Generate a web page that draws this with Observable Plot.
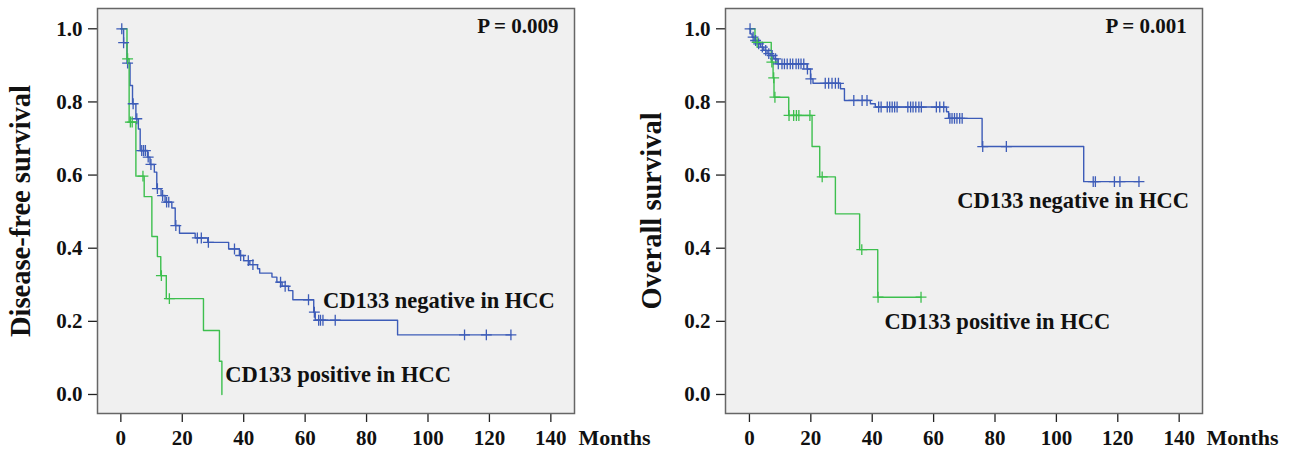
<!DOCTYPE html>
<html>
<head>
<meta charset="utf-8">
<script src="https://cdn.jsdelivr.net/npm/d3@7"></script>
<script src="https://cdn.jsdelivr.net/npm/@observablehq/plot@0.6"></script>
<style>
  html, body { margin: 0; padding: 0; background: #ffffff; }
  #wrap { position: relative; width: 1294px; height: 453px; overflow: hidden; background: #ffffff; }
  #left, #right { position: absolute; top: 0; }
  #left { left: 0; }
  #right { left: 634px; }
</style>
</head>
<body>
<div id="wrap"><div id="left"></div><div id="right"></div></div>
<script>
// ---------- data ----------
const monthTicks = [0, 20, 40, 60, 80, 100, 120, 140];
const survTicks = [0, 0.2, 0.4, 0.6, 0.8, 1.0];
const groupNames = ["CD133 negative in HCC", "CD133 positive in HCC"];
const panelTitles = ["Disease-free survival", "Overall survival"];
const pValues = ["P = 0.009", "P = 0.001"];
const xUnit = "Months";

// Disease-free survival, CD133 negative
const dfsNegTime = [0, 0.9, 2.0, 3.0, 3.8, 4.9, 5.7, 6.3, 8.7, 9.5, 10.9, 11.7, 13.1, 14.4, 16.6, 17.7, 19.1, 24.2, 28.3, 35.1, 38.6, 40.0, 42.0, 44.5, 45.2, 49.2, 50.8, 52.5, 54.6, 56.0, 62.8, 63.3, 90.1, 127.0];
const dfsNegSurv = [1.0, 0.962, 0.906, 0.845, 0.795, 0.754, 0.726, 0.667, 0.649, 0.629, 0.608, 0.563, 0.544, 0.526, 0.510, 0.462, 0.441, 0.428, 0.416, 0.398, 0.380, 0.366, 0.355, 0.344, 0.332, 0.321, 0.307, 0.296, 0.284, 0.259, 0.225, 0.203, 0.163, 0.163];
const dfsNegCensor = [0.3, 0.9, 2.2, 4.0, 5.2, 6.8, 7.4, 8.0, 8.9, 9.8, 11.9, 13.6, 14.9, 15.6, 17.9, 24.9, 26.2, 28.5, 37.0, 39.0, 41.5, 43.0, 52.0, 53.5, 61.1, 63.0, 64.4, 65.0, 65.8, 69.8, 111.9, 119.0, 127.0];

// Disease-free survival, CD133 positive
const dfsPosTime = [0, 2.0, 2.7, 4.9, 7.6, 10.1, 11.9, 13.0, 14.8, 26.9, 32.1, 32.9];
const dfsPosSurv = [1.0, 0.918, 0.745, 0.597, 0.541, 0.432, 0.377, 0.325, 0.262, 0.175, 0.091, 0.0];
const dfsPosCensor = [2.2, 3.1, 3.7, 7.2, 13.2, 15.8];

// Overall survival, CD133 negative
const osNegTime = [0, 0.33, 0.87, 1.63, 2.5, 3.6, 4.67, 5.76, 6.84, 7.93, 9.0, 18.8, 19.9, 20.7, 29.65, 30.95, 39.4, 41.0, 64.2, 64.9, 75.8, 108.9, 126.9];
const osNegSurv = [1.0, 0.986, 0.977, 0.968, 0.959, 0.950, 0.941, 0.932, 0.927, 0.918, 0.904, 0.890, 0.863, 0.851, 0.836, 0.804, 0.795, 0.786, 0.773, 0.755, 0.678, 0.582, 0.582];
const osNegCensor = [0.2, 1.2, 2.0, 3.0, 4.2, 5.3, 6.3, 7.4, 8.5, 9.4, 10.6, 11.4, 12.3, 13.3, 14.1, 15.2, 16.0, 16.8, 17.7, 18.9, 20.0, 24.7, 25.8, 26.9, 28.0, 29.0, 34.0, 36.7, 38.3, 42.1, 42.9, 44.9, 45.7, 46.5, 47.3, 48.1, 51.6, 52.5, 53.3, 54.2, 55.2, 56.0, 60.9, 62.0, 63.3, 65.3, 66.0, 66.8, 67.6, 68.5, 69.3, 76.0, 83.7, 112.0, 112.7, 118.9, 120.7, 126.9];

// Overall survival, CD133 positive
const osPosTime = [0, 1.8, 7.1, 7.7, 8.0, 12.8, 20.4, 22.9, 28.0, 35.9, 41.8, 55.9];
const osPosSurv = [1.0, 0.963, 0.909, 0.866, 0.813, 0.763, 0.678, 0.595, 0.494, 0.396, 0.266, 0.266];
const osPosCensor = [2.5, 7.3, 7.9, 8.3, 12.9, 14.4, 15.3, 16.1, 19.7, 23.7, 36.6, 41.9, 55.9];

// ---------- styling ----------
const BLUE = "#3d5cb8";
const GREEN = "#3dbf4e";
const FONT = "'Liberation Serif', 'Times New Roman', serif";

function curve(times, survs) {
  return times.map((t, i) => ({t, s: survs[i]}));
}
function censors(times, survs, cens) {
  return cens.map(c => {
    let s = survs[0];
    for (let i = 0; i < times.length; i++) if (times[i] <= c) s = survs[i];
    return {t: c, s};
  });
}

function panel(cfg) {
  const neg = curve(cfg.negT, cfg.negS);
  const pos = curve(cfg.posT, cfg.posS);
  const negC = censors(cfg.negT, cfg.negS, cfg.negC);
  const posC = censors(cfg.posT, cfg.posS, cfg.posC);
  return Plot.plot({
    width: 660,
    height: 453,
    marginLeft: cfg.ml,
    marginRight: cfg.mr,
    marginTop: 8,
    marginBottom: 40,
    style: {background: "transparent", overflow: "visible", fontFamily: FONT, fontWeight: "bold", fontSize: "21px", color: "#111"},
    x: {domain: cfg.xDomain},
    y: {domain: [-0.052, 1.0555]},
    marks: [
      Plot.frame({fill: "#f0f0f0", stroke: "none"}),
      Plot.axisX({ticks: monthTicks, tickSize: 9, tickPadding: 8, label: null, fontSize: 21, fontWeight: "bold", stroke: "#222", strokeWidth: 1.3}),
      Plot.axisY({ticks: survTicks, tickFormat: d3.format(".1f"), tickSize: 9, tickPadding: 6, label: null, fontSize: 21, fontWeight: "bold", stroke: "#222", strokeWidth: 1.3}),
      Plot.line(neg, {x: "t", y: "s", curve: "step-after", stroke: BLUE, strokeWidth: 1.4}),
      Plot.line(pos, {x: "t", y: "s", curve: "step-after", stroke: GREEN, strokeWidth: 1.4}),
      Plot.dot(negC, {x: "t", y: "s", symbol: "plus", r: 3.6, stroke: BLUE, strokeWidth: 1.3}),
      Plot.dot(posC, {x: "t", y: "s", symbol: "plus", r: 3.6, stroke: GREEN, strokeWidth: 1.3}),
      Plot.frame({stroke: "#666", strokeWidth: 1.5}),
      Plot.text([cfg.p], {x: 142.5, y: 1.006, text: d => d, textAnchor: "end", fontSize: 21, fontWeight: "bold", fill: "#111"}),
      Plot.text([groupNames[0]], {x: cfg.negLabel[0], y: cfg.negLabel[1], text: d => d, textAnchor: "start", fontSize: 22.5, fontWeight: "bold", fill: "#111"}),
      Plot.text([groupNames[1]], {x: cfg.posLabel[0], y: cfg.posLabel[1], text: d => d, textAnchor: "start", fontSize: 22.5, fontWeight: "bold", fill: "#111"}),
      Plot.text([xUnit], {x: cfg.unitX, y: -0.118, text: d => d, textAnchor: "start", fontSize: 22, fontWeight: "bold", fill: "#111"}),
      Plot.text([cfg.title], {frameAnchor: "left", rotate: -90, dx: cfg.titleDx, text: d => d, textAnchor: "middle", fontSize: 28.5, fontWeight: "bold", fill: "#111"})
    ]
  });
}

document.getElementById("left").appendChild(panel({
  negT: dfsNegTime, negS: dfsNegSurv, negC: dfsNegCensor,
  posT: dfsPosTime, posS: dfsPosSurv, posC: dfsPosCensor,
  ml: 97, mr: 86, xDomain: [-7.6, 147.7],
  p: pValues[0], title: panelTitles[0], titleDx: -77,
  negLabel: [65.8, 0.255], posLabel: [34.0, 0.054], unitX: 149.0
}));
document.getElementById("right").appendChild(panel({
  negT: osNegTime, negS: osNegSurv, negC: osNegCensor,
  posT: osPosTime, posS: osPosSurv, posC: osPosCensor,
  ml: 91, mr: 92, xDomain: [-7.8, 147.6],
  p: pValues[1], title: panelTitles[1], titleDx: -74,
  negLabel: [67.7, 0.531], posLabel: [44.0, 0.200], unitX: 148.9
}));
</script>
</body>
</html>
